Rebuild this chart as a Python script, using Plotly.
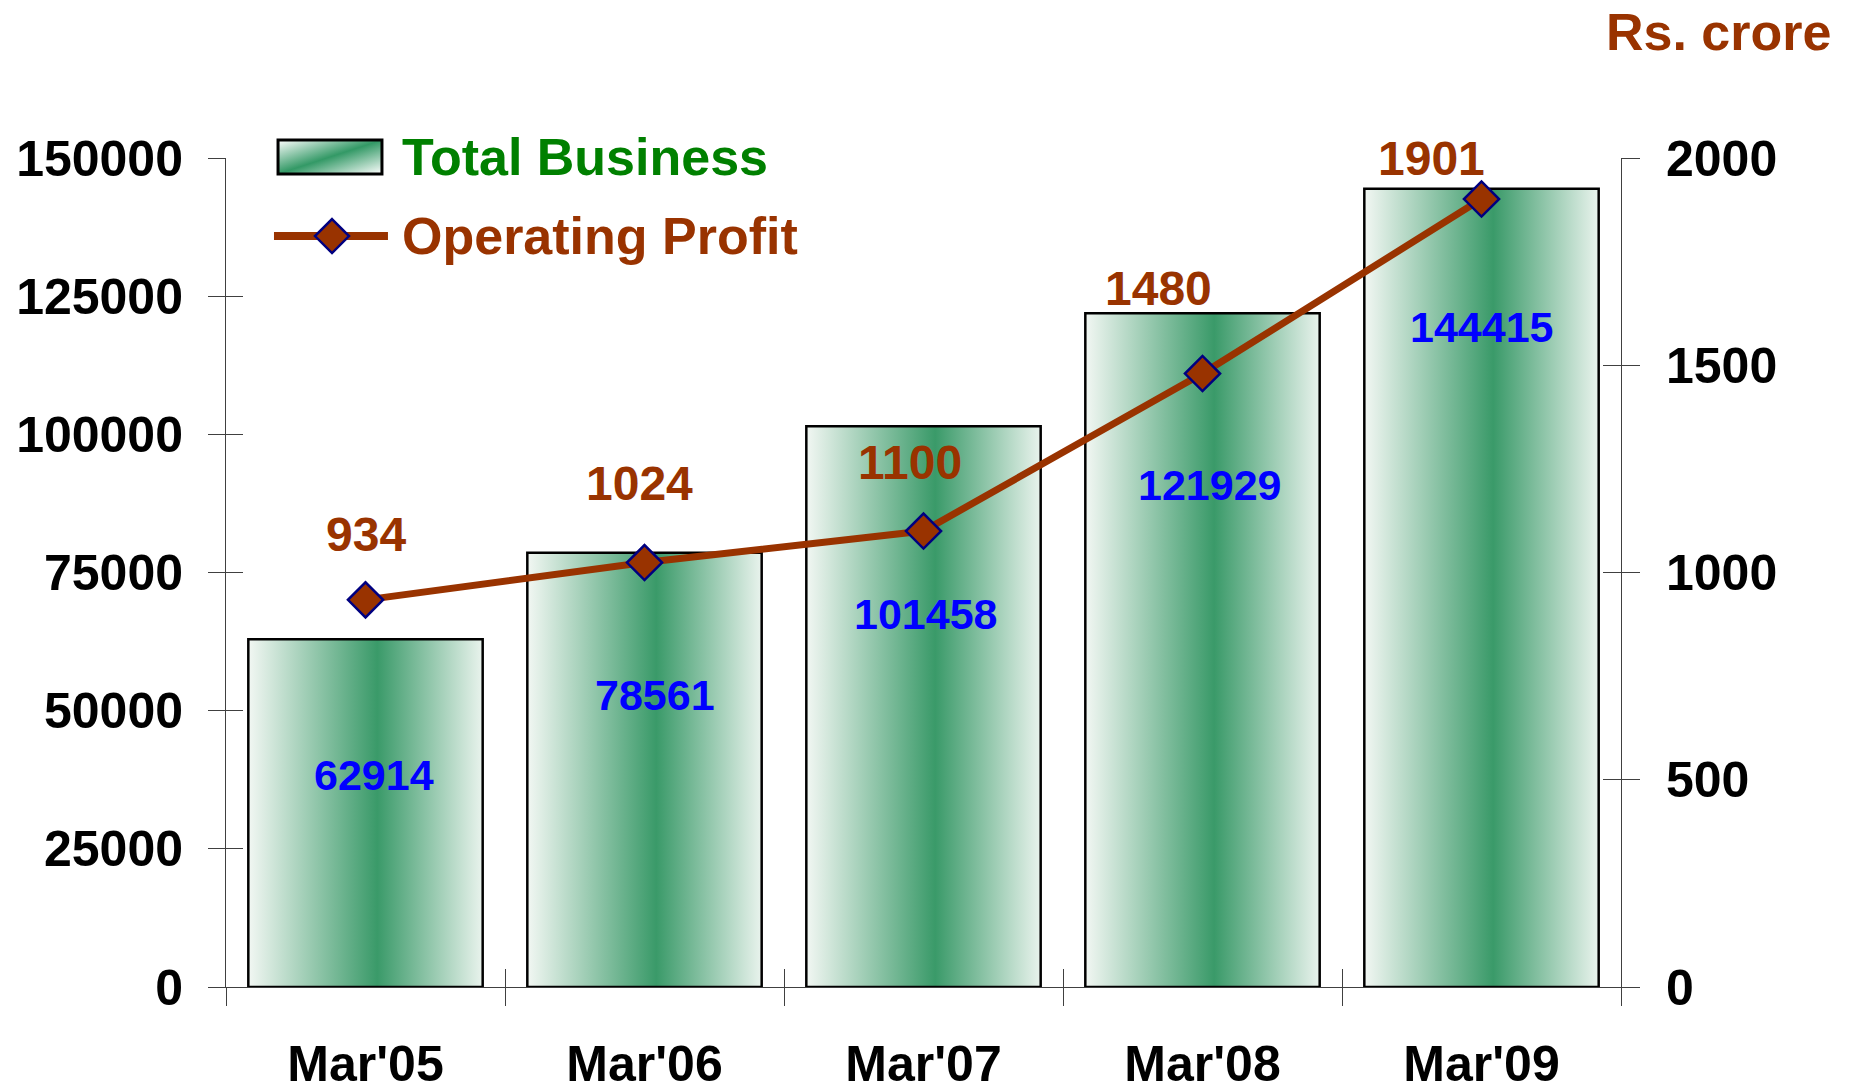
import base64
import plotly.graph_objects as go

# data
categories = ["Mar'05", "Mar'06", "Mar'07", "Mar'08", "Mar'09"]
total_business = [62914, 78561, 101458, 121929, 144415]
operating_profit = [934, 1024, 1100, 1480, 1901]
left_ticks = [0, 25000, 50000, 75000, 100000, 125000, 150000]
right_ticks = [0, 500, 1000, 1500, 2000]

BROWN = "#993300"
FONT = "Liberation Sans, Arial, sans-serif"
AXIS = "#404040"
BAR_W = 0.84

fig = go.Figure()

# bars drawn as filled shapes so they can carry a gradient
for i, v in enumerate(total_business):
    x0, x1 = i - BAR_W / 2, i + BAR_W / 2
    fig.add_trace(go.Scatter(
        x=[x0, x0, x1, x1, x0],
        y=[0, v, v, 0, 0],
        mode="lines",
        fill="toself",
        fillgradient=dict(
            type="horizontal",
            colorscale=[[0, "#f2f7f3"], [0.55, "#3a9a69"], [1, "#e9f3ed"]],
        ),
        line=dict(color="black", width=2.5),
        showlegend=False,
        hoverinfo="skip",
    ))

fig.add_trace(go.Scatter(
    x=list(range(len(categories))),
    y=operating_profit,
    yaxis="y2",
    mode="lines+markers",
    line=dict(color=BROWN, width=7),
    marker=dict(symbol="diamond", size=27, color=BROWN,
                line=dict(color="#000080", width=2.5)),
    showlegend=False,
))

# label nudges (pixels), as placed on the original slide
tb_dx = [8, 10, 2, 7, 0]
tb_dy = [-136, -142, -188, -172, -138]
op_dx = [0, -5, -14, -44, -50]
op_dy = [65, 79, 69, 85, 41]

annotations = []
for i, v in enumerate(total_business):
    annotations.append(dict(
        x=i, y=v, xref="x", yref="y", xshift=tb_dx[i], yshift=tb_dy[i], showarrow=False,
        text=str(v), font=dict(family=FONT, size=43, color="#0000ff", weight="bold"),
    ))

for i, v in enumerate(operating_profit):
    annotations.append(dict(
        x=i, y=v, xref="x", yref="y2", xshift=op_dx[i], yshift=op_dy[i], showarrow=False,
        text=str(v), font=dict(family=FONT, size=48, color=BROWN, weight="bold"),
    ))

annotations.append(dict(
    x=1.152, y=1.152, xref="paper", yref="paper", xanchor="right", yanchor="middle",
    showarrow=False, text="Rs. crore",
    font=dict(family=FONT, size=52, color=BROWN, weight="bold"),
))

# hand-made legend
annotations.append(dict(
    x=0.1247, y=1.0012, xref="paper", yref="paper", xanchor="left", yanchor="middle",
    showarrow=False, text="Total Business",
    font=dict(family=FONT, size=52, color="#008000", weight="bold"),
))
annotations.append(dict(
    x=0.1247, y=0.9059, xref="paper", yref="paper", xanchor="left", yanchor="middle",
    showarrow=False, text="Operating Profit",
    font=dict(family=FONT, size=52, color=BROWN, weight="bold"),
))

svg = (
    '<svg xmlns="http://www.w3.org/2000/svg" width="100" height="30" preserveAspectRatio="none">'
    '<defs><linearGradient id="g" x1="0" y1="0" x2="1" y2="1">'
    '<stop offset="0" stop-color="#ffffff"/><stop offset="0.5" stop-color="#339966"/>'
    '<stop offset="1" stop-color="#ffffff"/></linearGradient></defs>'
    '<rect width="100" height="30" fill="url(#g)"/></svg>'
)
svg_uri = "data:image/svg+xml;base64," + base64.b64encode(svg.encode()).decode()

images = [dict(
    source=svg_uri, xref="paper", yref="paper", x=0.0373, y=1.0217,
    sizex=0.1118 - 0.0373, sizey=1.0217 - 0.9807, sizing="stretch",
    xanchor="left", yanchor="top", layer="above",
)]

shapes = [
    dict(type="rect", xref="paper", yref="paper", x0=0.0373, x1=0.1118,
         y0=0.9807, y1=1.0217, line=dict(color="black", width=3)),
    dict(type="line", xref="paper", yref="paper", x0=0.0344, x1=0.1161,
         y0=0.9059, y1=0.9059, line=dict(color=BROWN, width=8)),
    dict(type="path", xref="paper", yref="paper", xsizemode="pixel", ysizemode="pixel",
         xanchor=0.0760, yanchor=0.9059, path="M0,17 L17,0 L0,-17 L-17,0 Z",
         fillcolor=BROWN, line=dict(color="#000080", width=2.5)),
]

tick_font = dict(family=FONT, size=50, color="black", weight="bold")
boundaries = [i - 0.5 for i in range(len(categories) + 1)]
xr = [-0.5, len(categories) - 0.5]

fig.update_layout(
    width=1853, height=1092,
    margin=dict(l=226, r=232, t=158, b=105, autoexpand=False),
    plot_bgcolor="white", paper_bgcolor="white",
    showlegend=False,
    xaxis=dict(
        range=xr, tickvals=list(range(len(categories))), ticktext=categories,
        ticks="", showline=True, linecolor=AXIS, linewidth=1, showgrid=False,
        zeroline=False, tickfont=tick_font, ticklabelstandoff=33, automargin=False,
    ),
    xaxis2=dict(
        overlaying="x", anchor="y", side="bottom", range=xr, tickvals=boundaries,
        ticks="outside", ticklen=18, tickcolor=AXIS, showticklabels=False,
        showgrid=False, zeroline=False, automargin=False,
    ),
    xaxis3=dict(
        overlaying="x", anchor="y", side="bottom", range=xr, tickvals=boundaries,
        ticks="inside", ticklen=18, tickcolor=AXIS, showticklabels=False,
        showgrid=False, zeroline=False, automargin=False,
    ),
    yaxis=dict(
        range=[0, 150000], tickvals=left_ticks, tickformat="d", ticks="outside",
        ticklen=17, tickcolor=AXIS, showline=True, linecolor=AXIS, linewidth=1,
        showgrid=False, zeroline=False, tickfont=tick_font, ticklabelstandoff=15,
        automargin=False,
    ),
    yaxis2=dict(
        overlaying="y", side="right", anchor="x", range=[0, 2000], tickvals=right_ticks,
        ticks="outside", ticklen=18, tickcolor=AXIS, showline=True, linecolor=AXIS,
        linewidth=1, showgrid=False, zeroline=False, tickfont=tick_font,
        ticklabelstandoff=16, automargin=False,
    ),
    yaxis3=dict(
        overlaying="y", side="left", anchor="x", range=[0, 150000], tickvals=left_ticks,
        ticks="inside", ticklen=17, tickcolor=AXIS, showticklabels=False,
        showgrid=False, zeroline=False, automargin=False,
    ),
    yaxis4=dict(
        overlaying="y", side="right", anchor="x", range=[0, 2000], tickvals=right_ticks,
        ticks="inside", ticklen=18, tickcolor=AXIS, showticklabels=False,
        showgrid=False, zeroline=False, automargin=False,
    ),
    annotations=annotations,
    images=images,
    shapes=shapes,
)

# invisible traces so the overlay tick axes get drawn
fig.add_trace(go.Scatter(x=[None], y=[None], xaxis="x2", yaxis="y3", showlegend=False, hoverinfo="skip"))
fig.add_trace(go.Scatter(x=[None], y=[None], xaxis="x3", yaxis="y4", showlegend=False, hoverinfo="skip"))

# drop the default 8px page margin so the figure sits at the window origin
fig.write_html("out.html", config={"displayModeBar": False},
               post_script="document.body.style.margin='0px';")
